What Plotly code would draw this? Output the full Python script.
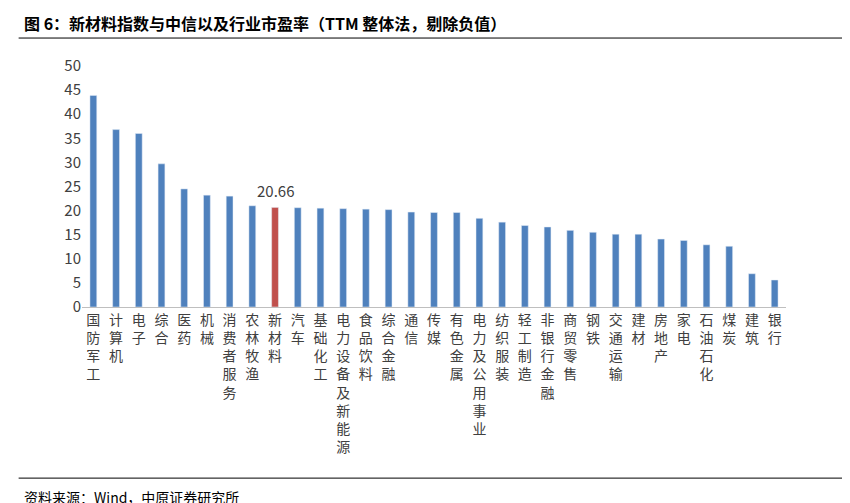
import plotly.graph_objects as go

categories = ["国防军工","计算机","电子","综合","医药","机械","消费者服务","农林牧渔","新材料","汽车",
              "基础化工","电力设备及新能源","食品饮料","综合金融","通信","传媒","有色金属","电力及公用事业",
              "纺织服装","轻工制造","非银行金融","商贸零售","钢铁","交通运输","建材","房地产","家电",
              "石油石化","煤炭","建筑","银行"]
values = [43.9,36.8,36.0,29.7,24.5,23.2,23.0,21.0,20.66,20.6,20.5,20.4,20.3,20.2,19.7,19.6,19.6,18.4,
          17.6,16.9,16.6,15.9,15.5,15.1,15.1,14.1,13.8,12.9,12.6,6.9,5.6]
highlight = "新材料"

colors = ["#C0504D" if c == highlight else "#4F81BD" for c in categories]
ticktext = ["<br>".join(list(c)) for c in categories]

fig = go.Figure(go.Bar(x=categories, y=values, marker_color=colors, width=0.3))
fig.add_annotation(x=highlight, y=values[categories.index(highlight)], text="20.66",
                   showarrow=False, yanchor="bottom", yshift=4, font=dict(size=15, color="#404040"))
fig.update_layout(
    width=850, height=503, plot_bgcolor="white", paper_bgcolor="white",
    margin=dict(l=74, r=72, t=58, b=204),
    font=dict(family="Noto Sans CJK SC", color="#404040", size=14),
    showlegend=False,
    xaxis=dict(tickmode="array", tickvals=categories, ticktext=ticktext, showline=True, automargin=False,
               linecolor="#BFBFBF", tickangle=0, ticks="", tickfont=dict(size=14)),
    yaxis=dict(range=[0, 50], dtick=5, showgrid=False, zeroline=False, automargin=False, tickfont=dict(size=15)),
)
fig.add_annotation(xref="paper", yref="paper", x=-0.085, y=1.178, xanchor="left", yanchor="middle",
                   text="<b>图 6：新材料指数与中信以及行业市盈率（TTM 整体法，剔除负值）</b>",
                   showarrow=False, font=dict(size=16, color="black"))
fig.add_annotation(xref="paper", yref="paper", x=-0.085, y=-0.79, xanchor="left", yanchor="middle",
                   text="资料来源：Wind，中原证券研究所", showarrow=False, font=dict(size=14, color="black"))
fig.add_shape(type="line", xref="paper", yref="paper", x0=-0.09, x1=1.09, y0=1.116, y1=1.116,
              line=dict(color="black", width=1))
fig.add_shape(type="line", xref="paper", yref="paper", x0=-0.09, x1=1.09, y0=-0.71, y1=-0.71,
              line=dict(color="black", width=1))
fig.write_html("out.html")
